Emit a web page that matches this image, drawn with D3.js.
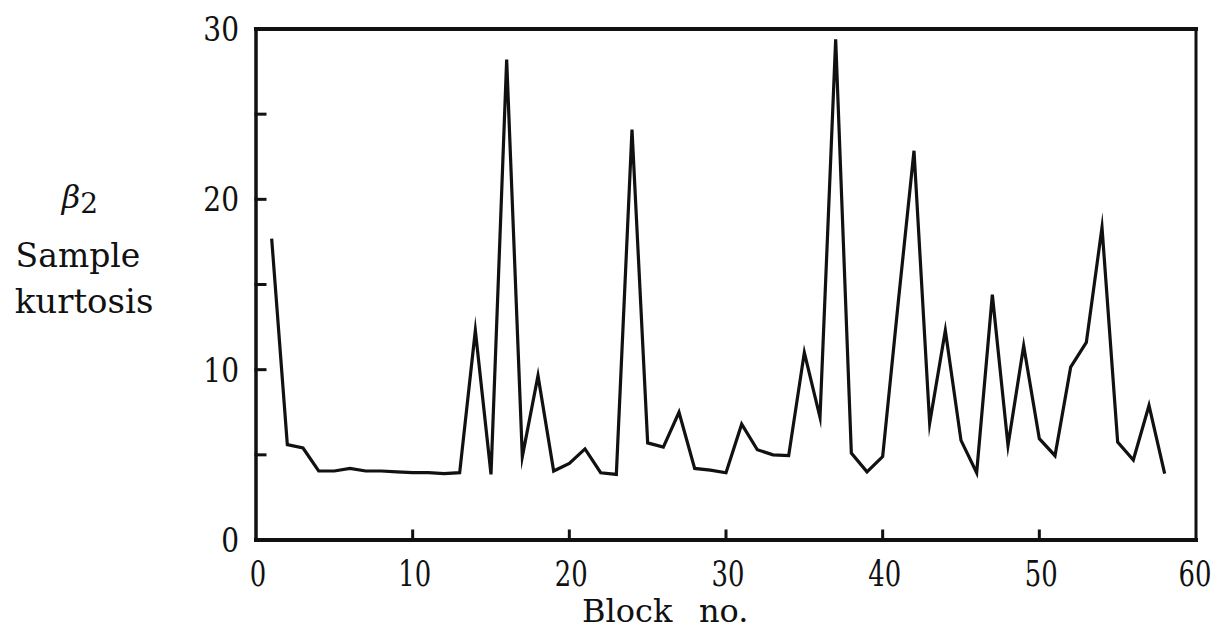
<!DOCTYPE html>
<html>
<head>
<meta charset="utf-8">
<script src="https://cdn.jsdelivr.net/npm/d3@7"></script>
<style>
  html, body { margin: 0; padding: 0; background: #fff; }
  svg text { font-family: "DejaVu Serif", serif; fill: #111; }
</style>
</head>
<body>
<svg id="chart" width="1214" height="640"></svg>
<script>
// Sample kurtosis (beta_2) for each block
const blocks = d3.range(1, 59);
const kurtosis = [
  17.7, 5.6, 5.4, 4.05, 4.05, 4.2, 4.05, 4.05, 4.0, 3.95,
  3.95, 3.9, 3.95, 12.3, 3.85, 28.2, 4.9, 9.65, 4.05, 4.5,
  5.35, 3.95, 3.85, 24.1, 5.7, 5.45, 7.5, 4.2, 4.1, 3.95,
  6.8, 5.3, 5.0, 4.95, 11.0, 7.2, 29.4, 5.1, 4.0, 4.9,
  14.0, 22.85, 6.85, 12.3, 5.85, 3.95, 14.4, 5.55, 11.4, 5.95,
  4.95, 10.15, 11.6, 18.35, 5.75, 4.7, 7.9, 3.9
];
const xTicks = [0, 10, 20, 30, 40, 50, 60];
const yTicks = [0, 10, 20, 30];
const yMinorTicks = [5, 10, 15, 20, 25];
const xInnerTicks = [10, 20, 30, 40, 50];

const svg = d3.select("#chart");
const plotL = 256, plotR = 1196, plotT = 29, plotB = 540;

const x = d3.scaleLinear().domain([0, 60]).range([plotL, plotR]);
const y = d3.scaleLinear().domain([0, 30]).range([plotB, plotT]);

// frame
const frame = svg.append("g").attr("stroke", "#111").attr("fill", "none").attr("stroke-linecap", "square");
frame.append("line").attr("x1", plotL).attr("x2", plotR).attr("y1", plotT).attr("y2", plotT).attr("stroke-width", 4);
frame.append("line").attr("x1", plotL).attr("x2", plotR).attr("y1", plotB).attr("y2", plotB).attr("stroke-width", 4);
frame.append("line").attr("x1", plotL).attr("x2", plotL).attr("y1", plotT).attr("y2", plotB).attr("stroke-width", 3.5);
frame.append("line").attr("x1", plotR).attr("x2", plotR).attr("y1", plotT).attr("y2", plotB).attr("stroke-width", 3);

// inward ticks on left and bottom
frame.selectAll(".yt").data(yMinorTicks).enter().append("line")
  .attr("x1", plotL).attr("x2", plotL + 9)
  .attr("y1", d => y(d)).attr("y2", d => y(d))
  .attr("stroke-width", 3);
frame.selectAll(".xt").data(xInnerTicks).enter().append("line")
  .attr("x1", d => x(d)).attr("x2", d => x(d))
  .attr("y1", plotB).attr("y2", plotB - 9)
  .attr("stroke-width", 3);

// tick labels (narrow digits)
svg.selectAll(".xl").data(xTicks).enter().append("text")
  .attr("transform", d => `translate(${x(d) + (d === 60 ? -1 : 2)},586) scale(0.74,1)`)
  .attr("text-anchor", "middle")
  .style("font-size", "35px")
  .text(d => d);
svg.selectAll(".yl").data(yTicks).enter().append("text")
  .attr("transform", d => `translate(239,${y(d) + 12}) scale(0.85,1)`)
  .attr("text-anchor", "end")
  .style("font-size", "33px")
  .text(d => d);

// axis titles
const xTitle = svg.append("text").attr("y", 622).style("font-size", "32px");
xTitle.append("tspan").attr("x", 582).text("Block");
xTitle.append("tspan").attr("x", 699).text("no.");

const beta = svg.append("text").attr("x", 80).attr("y", 208).attr("text-anchor", "middle")
  .style("font-size", "32px");
beta.append("tspan").style("font-style", "italic").text("β");
beta.append("tspan").attr("dy", 5).style("font-size", "28px").text("2");

svg.append("text").attr("x", 78).attr("y", 267).attr("text-anchor", "middle")
  .style("font-size", "33px").text("Sample");
svg.append("text").attr("x", 84).attr("y", 313).attr("text-anchor", "middle")
  .style("font-size", "34px").text("kurtosis");

// kurtosis series
const line = d3.line().x((d, i) => x(blocks[i])).y(d => y(d));
svg.append("path").datum(kurtosis)
  .attr("d", line)
  .attr("fill", "none")
  .attr("stroke", "#111")
  .attr("stroke-width", 3.2)
  .attr("stroke-linejoin", "miter")
  .attr("stroke-miterlimit", 10);
</script>
</body>
</html>
